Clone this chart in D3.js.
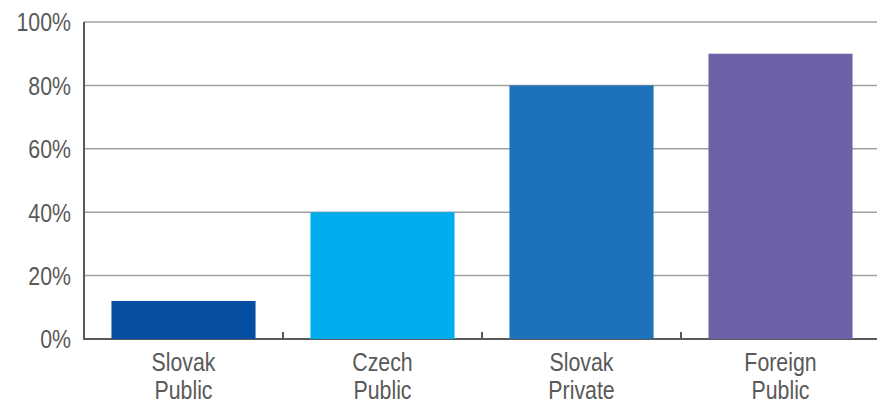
<!DOCTYPE html>
<html>
<head>
<meta charset="utf-8">
<script src="https://cdn.jsdelivr.net/npm/d3@7"></script>
<style>
    body { margin: 0; background: #fff; }
    text { font-family: "Liberation Sans Narrow", "Arial Narrow", "Liberation Sans", Arial, sans-serif; fill: #595959; }
</style>
</head>
<body>
<script>
(function(){

    //chart data
    var categories = [["Slovak", "Public"], ["Czech", "Public"], ["Slovak", "Private"], ["Foreign", "Public"]];
    var values = [12, 40, 80, 90];
    var colors = ["#054ea2", "#00adec", "#1e72ba", "#6d61a8"];
    var yTicks = [0, 20, 40, 60, 80, 100];

    var squeeze = 0.82; //horizontal squeeze to mimic a narrow face

window.onload = drawChart();

function drawChart(){

    //frame dimensions
    var width = 877,
        height = 401;

    var svg = d3.select("body")
        .append("svg")
        .attr("width", width)
        .attr("height", height);

    var keys = categories.map(function(c){ return c.join(" "); });

    //scales
    var x = d3.scaleBand()
        .domain(keys)
        .range([84, 880])
        .paddingInner(0.276)
        .paddingOuter(0.138);

    var y = d3.scaleLinear()
        .domain([0, 100])
        .range([339, 22]);

    //gridlines
    svg.selectAll(".grid")
        .data(yTicks.filter(function(d){ return d > 0; }))
        .enter()
        .append("line")
        .attr("class", "grid")
        .attr("x1", 84)
        .attr("x2", width)
        .attr("y1", function(d){ return y(d); })
        .attr("y2", function(d){ return y(d); })
        .attr("stroke", "#a0a0a0")
        .attr("stroke-width", 1.5);

    //y tick labels
    svg.selectAll(".ylab")
        .data(yTicks)
        .enter()
        .append("text")
        .attr("class", "ylab")
        .attr("transform", function(d){ return "translate(71," + y(d) + ") scale(" + squeeze + ",1)"; })
        .attr("dy", "0.36em")
        .attr("text-anchor", "end")
        .style("font-size", "26px")
        .text(function(d){ return d + "%"; });

    //x axis line and boundary ticks
    svg.append("line")
        .attr("x1", 84)
        .attr("x2", width)
        .attr("y1", y(0))
        .attr("y2", y(0))
        .attr("stroke", "#595959")
        .attr("stroke-width", 2);

    var bounds = keys.slice(1).map(function(k){
        return x(k) - x.step() * x.paddingInner() / 2;
    });
    bounds.push(x(keys[keys.length - 1]) + x.bandwidth() + x.step() * x.paddingInner() / 2);

    svg.selectAll(".tick")
        .data(bounds)
        .enter()
        .append("line")
        .attr("class", "tick")
        .attr("x1", function(d){ return d; })
        .attr("x2", function(d){ return d; })
        .attr("y1", y(0))
        .attr("y2", y(0) - 7)
        .attr("stroke", "#595959")
        .attr("stroke-width", 2);

    //bars
    svg.selectAll(".bar")
        .data(values)
        .enter()
        .append("rect")
        .attr("class", "bar")
        .attr("x", function(d, i){ return x(keys[i]); })
        .attr("width", x.bandwidth())
        .attr("y", function(d){ return y(d); })
        .attr("height", function(d){ return y(0) - y(d); })
        .attr("fill", function(d, i){ return colors[i]; });

    //y axis line
    svg.append("line")
        .attr("x1", 84)
        .attr("x2", 84)
        .attr("y1", y(100))
        .attr("y2", y(0) + 1)
        .attr("stroke", "#595959")
        .attr("stroke-width", 2);

    //category labels (two lines)
    var labels = svg.selectAll(".xlab")
        .data(categories)
        .enter()
        .append("text")
        .attr("class", "xlab")
        .attr("transform", function(d, i){
            return "translate(" + (x(keys[i]) + x.bandwidth() / 2) + ",0) scale(" + squeeze + ",1)";
        })
        .attr("text-anchor", "middle")
        .style("font-size", "26px");

    labels.selectAll("tspan")
        .data(function(d){ return d; })
        .enter()
        .append("tspan")
        .attr("x", 0)
        .attr("y", function(d, j){ return 371 + j * 28; })
        .text(function(d){ return d; });
}

})();
</script>
</body>
</html>
